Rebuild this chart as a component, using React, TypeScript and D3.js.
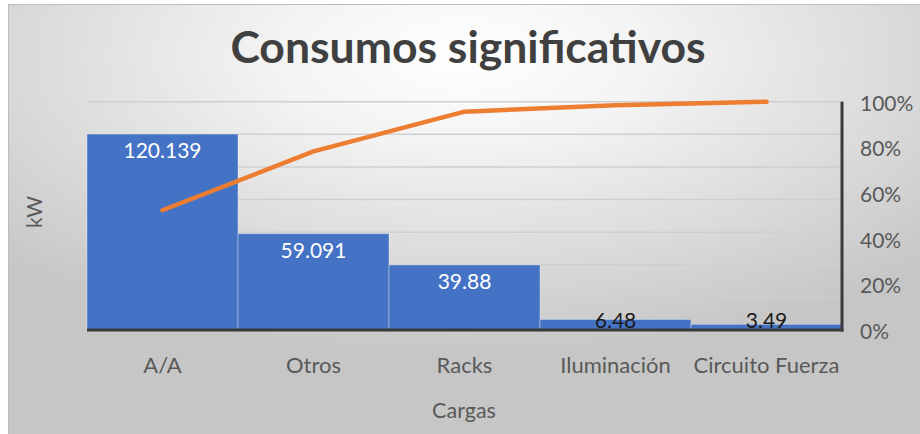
import React from "react";
import * as d3 from "d3";

const categories = ["A/A", "Otros", "Racks", "Iluminación", "Circuito Fuerza"];
const values = [120.139, 59.091, 39.88, 6.48, 3.49];
const valueLabels = ["120.139", "59.091", "39.88", "6.48", "3.49"];
const leftTicks = [0, 20, 40, 60, 80, 100, 120, 140];
const rightTicks = [0, 0.2, 0.4, 0.6, 0.8, 1];

const W = 920;
const H = 434;
const FONT = "Lato, 'Open Sans', sans-serif";

export default function App() {
  const left = 87;
  const right = 842;
  const top = 101.7;
  const bottom = 330;

  const x = d3.scaleBand<string>().domain(categories).range([left, right]).padding(0);
  const yL = d3.scaleLinear().domain([0, 140]).range([bottom, top]);
  const yR = d3.scaleLinear().domain([0, 1]).range([bottom, top]);

  const total = d3.sum(values);
  let acc = 0;
  const cum = values.map((v) => {
    acc += v;
    return acc / total;
  });

  const line = d3
    .line<number>()
    .x((_, i) => (x(categories[i]) as number) + x.bandwidth() / 2)
    .y((d) => yR(d));

  const pct = d3.format(".0%");

  return (
    <div style={{ position: "absolute", left: 0, top: 0, width: W, height: H }}>
      <svg width={W} height={H} style={{ display: "block" }}>
        <defs>
          <radialGradient id="bg" cx="0.5" cy="0.12" r="0.7" fx="0.5" fy="0.12">
            <stop offset="0" stopColor="#ffffff" />
            <stop offset="0.3" stopColor="#f3f3f3" />
            <stop offset="1" stopColor="#c6c6c6" />
          </radialGradient>
        </defs>
        <rect x={0} y={0} width={W} height={H} fill="#ffffff" />
        <rect x={8} y={4} width={W - 8} height={H - 4} fill="url(#bg)" />
        <line x1={8} x2={W} y1={4.5} y2={4.5} stroke="#bdbdbd" strokeWidth={1} />
        <line x1={8.5} x2={8.5} y1={4} y2={H} stroke="#bdbdbd" strokeWidth={1} />

        <text
          x={468}
          y={63}
          textAnchor="middle"
          fontFamily={FONT}
          fontWeight={700}
          fontSize={44.5}
          fill="#404040"
        >
          Consumos significativos
        </text>

        {leftTicks.map((t) => (
          <line
            key={t}
            x1={left}
            x2={right}
            y1={yL(t)}
            y2={yL(t)}
            stroke="#cfcfcf"
            strokeWidth={1.5}
          />
        ))}

        {categories.map((c, i) => (
          <rect
            key={c}
            x={x(c) as number}
            y={yL(values[i])}
            width={x.bandwidth()}
            height={bottom - yL(values[i])}
            fill="#4472C4"
            stroke="rgba(255,255,255,0.35)"
            strokeWidth={1}
          />
        ))}

        <line x1={left} x2={right + 1.5} y1={bottom} y2={bottom} stroke="#3a3a3a" strokeWidth={3} />
        <line x1={right} x2={right} y1={top} y2={bottom + 1.5} stroke="#3a3a3a" strokeWidth={3} />

        {categories.map((c, i) => {
          const barH = bottom - yL(values[i]);
          const inside = barH > 30;
          const ly = Math.min(yL(values[i]) + 17, bottom - 9.5);
          return (
            <text
              key={c}
              x={(x(c) as number) + x.bandwidth() / 2}
              y={ly}
              dy="0.35em"
              textAnchor="middle"
              fontFamily={FONT}
              fontSize={21}
              fill={inside ? "#ffffff" : "#1a1a1a"}
            >
              {valueLabels[i]}
            </text>
          );
        })}

        <path
          d={line(cum) as string}
          fill="none"
          stroke="#ED7D31"
          strokeWidth={4.5}
          strokeLinecap="round"
          strokeLinejoin="round"
        />

        {rightTicks.map((t) => (
          <text
            key={t}
            x={860}
            y={yR(t) + 1.5}
            dy="0.35em"
            fontFamily={FONT}
            fontSize={21}
            fill="#595959"
          >
            {pct(t)}
          </text>
        ))}

        {categories.map((c) => (
          <text
            key={c}
            x={(x(c) as number) + x.bandwidth() / 2}
            y={365}
            dy="0.35em"
            textAnchor="middle"
            fontFamily={FONT}
            fontSize={22}
            fill="#595959"
          >
            {c}
          </text>
        ))}

        <text
          x={464}
          y={410}
          dy="0.35em"
          textAnchor="middle"
          fontFamily={FONT}
          fontSize={21.5}
          fill="#595959"
        >
          Cargas
        </text>

        <text
          transform={`translate(35, 212) rotate(-90)`}
          dy="0.35em"
          textAnchor="middle"
          fontFamily={FONT}
          fontSize={21}
          fill="#595959"
        >
          kW
        </text>
      </svg>
    </div>
  );
}
